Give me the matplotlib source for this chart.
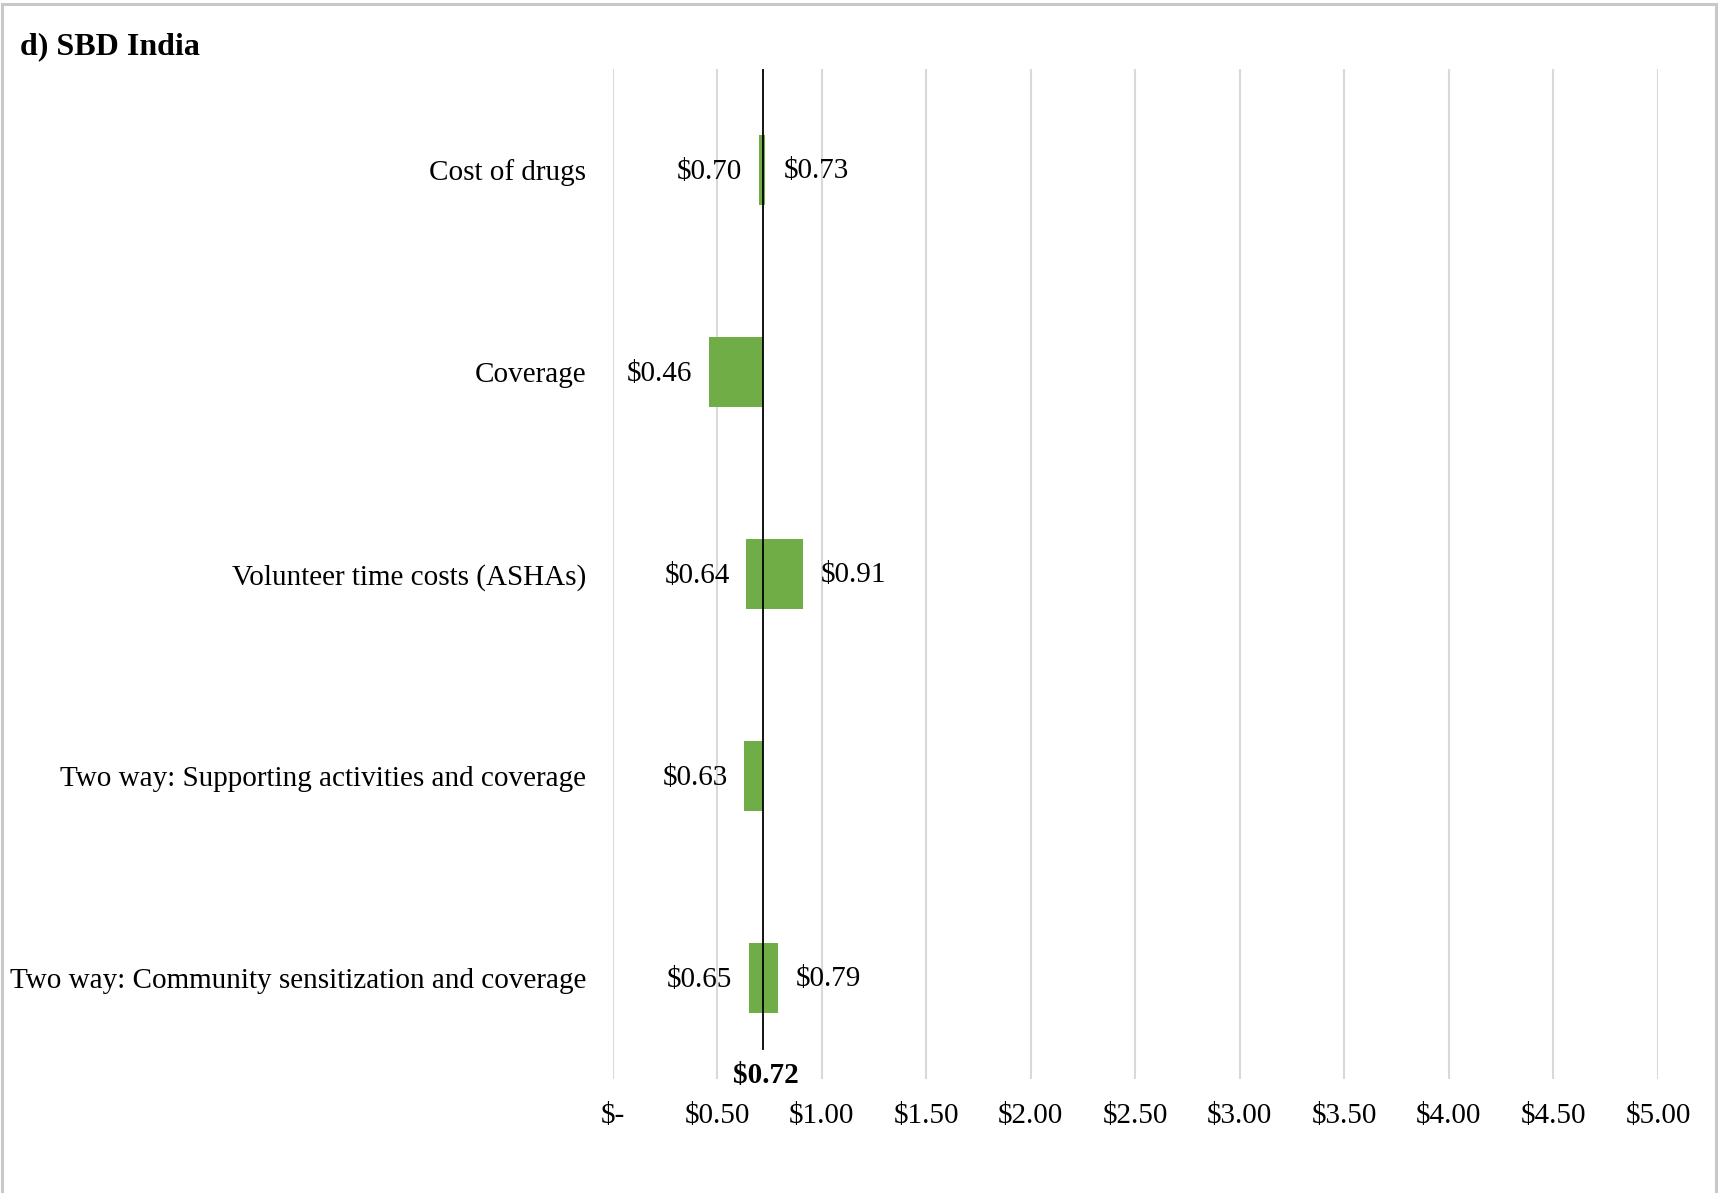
import matplotlib.pyplot as plt
from matplotlib.patches import Rectangle
from matplotlib.transforms import blended_transform_factory

plt.rcParams["font.family"] = ["Liberation Serif", "DejaVu Serif"]

# tornado data: cost per person treated, base case in the middle
CATEGORIES = [
    "Cost of drugs",
    "Coverage",
    "Volunteer time costs (ASHAs)",
    "Two way: Supporting activities and coverage",
    "Two way: Community sensitization and coverage",
]
LOW = [0.70, 0.46, 0.64, 0.63, 0.65]
HIGH = [0.73, 0.72, 0.91, 0.72, 0.79]
BASE = 0.72
XTICKS = [0, 0.5, 1.0, 1.5, 2.0, 2.5, 3.0, 3.5, 4.0, 4.5, 5.0]

GREEN = "#70AD47"
GRID = "#D9D9D9"


def money(v):
    return "$-" if v == 0 else f"${v:.2f}"


fig = plt.figure(figsize=(17.19, 11.93), dpi=100)
ax = fig.add_axes([0.3564, 0.0956, 0.6081, 0.8466])

ypos = list(range(len(CATEGORIES)))
ax.barh(ypos, [h - l for l, h in zip(LOW, HIGH)], left=LOW,
        height=0.35, color=GREEN, zorder=2)

for y, lo, hi in zip(ypos, LOW, HIGH):
    ax.annotate(money(lo), (lo, y), xytext=(-12, -1.5), textcoords="offset points",
                ha="right", va="center", fontsize=21)
    if hi > BASE:
        ax.annotate(money(hi), (hi, y), xytext=(13, -1), textcoords="offset points",
                    ha="left", va="center", fontsize=21)

ax.axvline(BASE, ymin=0.03, ymax=1, color="black", lw=1.3, zorder=3)
trans = blended_transform_factory(ax.transData, ax.transAxes)
ax.annotate(money(BASE), (BASE, 0.006), xycoords=trans, xytext=(2, -2),
            textcoords="offset points", ha="center", va="center",
            fontsize=21, fontweight="bold")

ax.set_xlim(0, 5)
ax.set_ylim(len(CATEGORIES) - 0.5, -0.5)
ax.set_xticks(XTICKS)
ax.set_xticklabels([money(v) for v in XTICKS], fontsize=21)
ax.set_yticks(ypos)
ax.set_yticklabels(CATEGORIES, fontsize=21)
ax.tick_params(axis="x", length=0, pad=17)
ax.tick_params(axis="y", length=0, pad=19)
ax.grid(axis="x", color=GRID, lw=1.5, zorder=0)
ax.set_axisbelow(True)
for s in ax.spines.values():
    s.set_visible(False)

fig.text(0.0116, 0.9606, "d) SBD India", fontsize=23, fontweight="bold",
         ha="left", va="center")

# chart area border
fig.patches.append(Rectangle((0.001, -0.01), 0.997, 1.007, transform=fig.transFigure,
                             fill=False, edgecolor="#C8C8C8", lw=2.2))

fig.savefig("out.png", dpi=100)
